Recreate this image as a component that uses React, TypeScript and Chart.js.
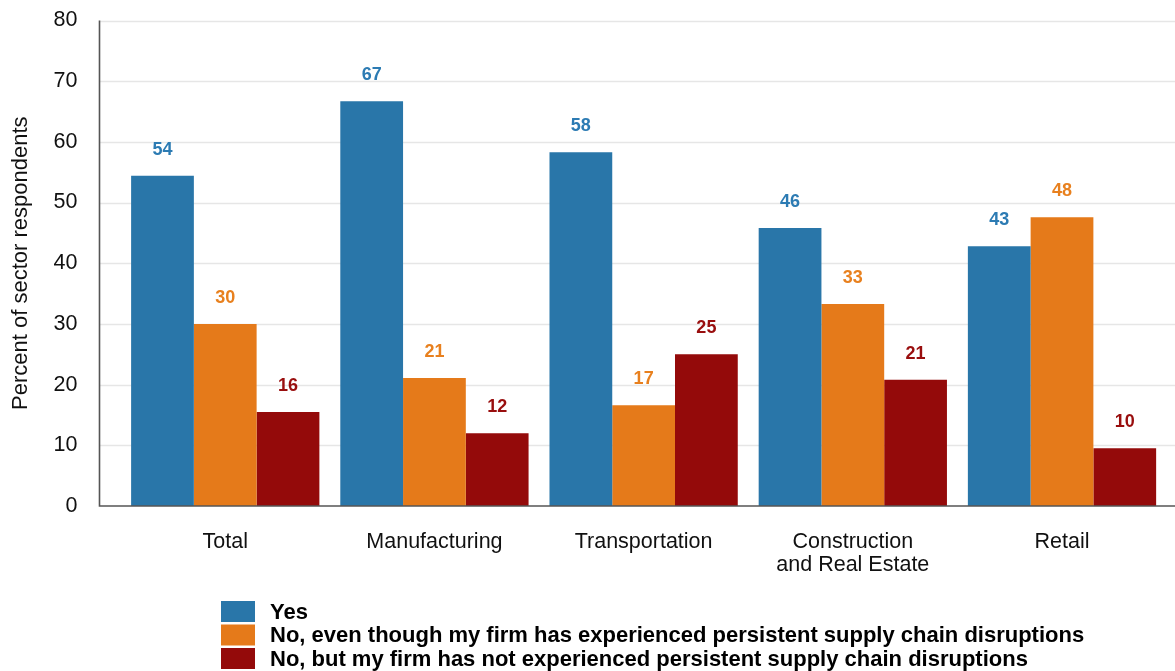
import React, { useEffect, useRef } from "react";
import { Chart, registerables } from "chart.js";

Chart.register(...registerables);

const categories: (string | string[])[] = [
  "Total",
  "Manufacturing",
  "Transportation",
  ["Construction", "and Real Estate"],
  "Retail",
];
const seriesLabels = [
  "Yes",
  "No, even though my firm has experienced persistent supply chain disruptions",
  "No, but my firm has not experienced persistent supply chain disruptions",
];
const yesValues = [54.4, 66.7, 58.3, 45.8, 42.8];
const noDisruptedValues = [30.0, 21.1, 16.6, 33.3, 47.6];
const noNotDisruptedValues = [15.5, 12.0, 25.0, 20.8, 9.5];
const seriesColors = ["#2976a9", "#e57a1a", "#940a0a"];
const labelColors = ["#2c7bb3", "#e8801e", "#990e0e"];
const yMin = 0;
const yMax = 80;
const yStep = 10;

const FONT = "'Liberation Sans', Arial, sans-serif";

const customDraw = {
  id: "customDraw",
  beforeDatasetsDraw(chart: any) {
    const ctx = chart.ctx;
    const y = chart.scales.y;
    ctx.save();
    ctx.strokeStyle = "#e6e6e6";
    ctx.lineWidth = 1.5;
    y.ticks.forEach((t: any) => {
      if (t.value === yMin) return;
      const py = Math.round(y.getPixelForValue(t.value)) + 0.5;
      ctx.beginPath();
      ctx.moveTo(100, py);
      ctx.lineTo(chart.width, py);
      ctx.stroke();
    });
    ctx.restore();
  },
  afterDatasetsDraw(chart: any) {
    const ctx = chart.ctx;
    const y = chart.scales.y;
    const top = y.getPixelForValue(yMax);
    const bottom = y.getPixelForValue(yMin);
    ctx.save();
    ctx.strokeStyle = "#555555";
    ctx.lineWidth = 1.6;
    ctx.beginPath();
    ctx.moveTo(99.5, top);
    ctx.lineTo(99.5, bottom);
    ctx.lineTo(chart.width, bottom);
    ctx.stroke();

    // value labels
    ctx.font = `bold 18px ${FONT}`;
    ctx.textAlign = "center";
    ctx.textBaseline = "middle";
    chart.data.datasets.forEach((ds: any, i: number) => {
      const meta = chart.getDatasetMeta(i);
      ctx.fillStyle = labelColors[i];
      meta.data.forEach((bar: any, j: number) => {
        const v = ds.data[j];
        ctx.fillText(String(Math.round(v)), bar.x, bar.y - 26);
      });
    });

    // legend
    ctx.font = `bold 22px ${FONT}`;
    ctx.textAlign = "left";
    ctx.textBaseline = "middle";
    const rowCenters = [611.5, 635, 658.5];
    chart.data.datasets.forEach((ds: any, i: number) => {
      const cy = rowCenters[i];
      ctx.fillStyle = ds.backgroundColor;
      ctx.fillRect(221, cy - 10.5, 34, 21);
      ctx.fillStyle = "#000000";
      ctx.fillText(ds.label, 270, cy + 1);
    });
    ctx.restore();
  },
};

export default function App() {
  const ref = useRef<HTMLCanvasElement>(null);
  useEffect(() => {
    if (!ref.current) return;
    const chart = new Chart(ref.current, {
      type: "bar",
      data: {
        labels: categories as any,
        datasets: [
          { label: seriesLabels[0], data: yesValues, backgroundColor: seriesColors[0] },
          { label: seriesLabels[1], data: noDisruptedValues, backgroundColor: seriesColors[1] },
          { label: seriesLabels[2], data: noNotDisruptedValues, backgroundColor: seriesColors[2] },
        ],
      },
      options: {
        responsive: false,
        animation: false,
        devicePixelRatio: 1,
        layout: { padding: { top: 20.5, right: 8.4, left: 0, bottom: 0 } },
        datasets: { bar: { categoryPercentage: 0.9, barPercentage: 1.0 } },
        plugins: { legend: { display: false }, tooltip: { enabled: false } },
        scales: {
          x: {
            grid: { display: false, drawTicks: false },
            border: { display: false },
            ticks: {
              color: "#111111",
              font: { family: FONT, size: 21.5, lineHeight: 1.08 },
              padding: 24,
              maxRotation: 0,
              autoSkip: false,
            },
            afterFit: (s: any) => {
              s.height = 165;
            },
          },
          y: {
            min: yMin,
            max: yMax,
            grid: { display: false, drawTicks: false },
            border: { display: false },
            ticks: {
              stepSize: yStep,
              color: "#111111",
              font: { family: FONT, size: 21.5 },
              padding: 43.3,
            },
            title: {
              display: true,
              text: "Percent of sector respondents",
              color: "#111111",
              font: { family: FONT, size: 22, lineHeight: 1.2 },
              padding: { top: 7.5, bottom: 0 },
            },
            afterFit: (s: any) => {
              s.width = 120.65;
              s.paddingTop = 12;
              s.paddingBottom = 12;
            },
          },
        },
      },
      plugins: [customDraw],
    });
    return () => chart.destroy();
  }, []);
  return (
    <div style={{ position: "fixed", left: 0, top: 0, width: 1175, height: 671, background: "#fff" }}>
      <canvas ref={ref} width={1175} height={671} />
    </div>
  );
}
